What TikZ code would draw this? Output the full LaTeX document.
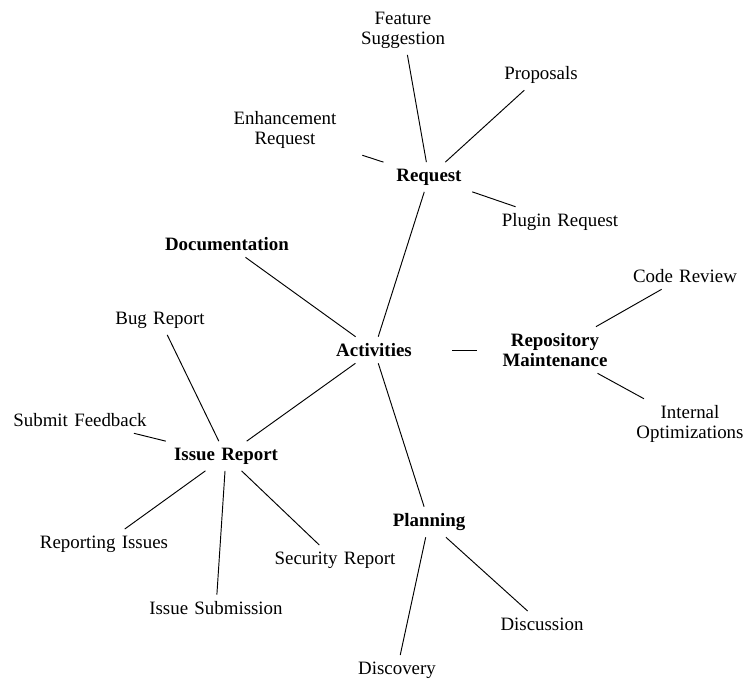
\documentclass[tikz,border=0pt]{standalone}
\usepackage{fontspec}
\setmainfont{Liberation Serif}
\begin{document}
\begin{tikzpicture}[x=0.5294pt,y=-0.5294pt,
  leaf/.style={text width=76pt, align=center, inner sep=3.33pt, font=\fontsize{10}{10.6}\selectfont},
  hub/.style={leaf, font=\fontsize{10}{10.6}\selectfont\bfseries},
  link/.style={line width=0.5pt, black}]
\useasboundingbox (0,0) rectangle (751,679);
% main nodes
\node[hub] (act) at (374,350) {Activities};
\node[hub] (req) at (429,177) {Request};
\node[hub] (doc) at (227,244) {Documentation};
\node[hub] (repo) at (555,350) {Repository\\Maintenance};
\node[hub] (ir) at (226,456) {Issue Report};
\node[hub] (plan) at (429,522) {Planning};
% leaves
\node[leaf] (fs) at (403,30) {Feature\\Suggestion};
\node[leaf] (prop) at (541,75) {Proposals};
\node[leaf] (enh) at (285,130) {Enhancement\\Request};
\node[leaf] (plug) at (560,222) {Plugin Request};
\node[leaf] (cr) at (685,276) {Code Review};
\node[leaf] (io) at (690,424) {Internal\\Optimizations};
\node[leaf] (bug) at (160,320) {Bug Report};
\node[leaf] (sf) at (80,420) {Submit Feedback};
\node[leaf] (ri) at (104,544) {Reporting Issues};
\node[leaf] (sr) at (335,560) {Security Report};
\node[leaf] (is) at (216,608) {Issue Submission};
\node[leaf] (disc) at (542,624) {Discussion};
\node[leaf] (dis) at (397,670) {Discovery};
% connectors
\draw[link] (act) -- (req);
\draw[link] (act) -- (doc);
\draw[link] (act) -- (repo);
\draw[link] (act) -- (ir);
\draw[link] (act) -- (plan);
\draw[link] (req) -- (fs);
\draw[link] (req) -- (prop);
\draw[link] (req) -- (enh);
\draw[link] (req) -- (plug);
\draw[link] (repo) -- (cr);
\draw[link] (repo) -- (io);
\draw[link] (ir) -- (bug);
\draw[link] (ir) -- (sf);
\draw[link] (ir) -- (ri);
\draw[link] (ir) -- (is);
\draw[link] (ir) -- (sr);
\draw[link] (plan) -- (dis);
\draw[link] (plan) -- (disc);
\end{tikzpicture}
\end{document}
